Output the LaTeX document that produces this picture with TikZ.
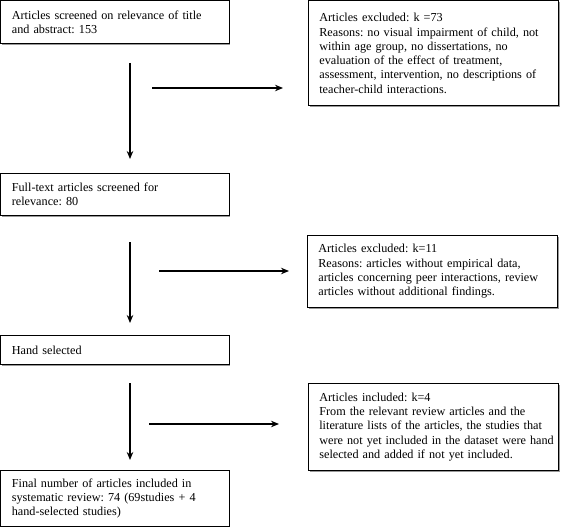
\documentclass[tikz,border=0pt]{standalone}
\usepackage{fontspec}
\setmainfont{Liberation Serif}
\frenchspacing
\usetikzlibrary{shadows,arrows.meta}
\tikzset{>={Stealth[length=8pt,width=6.5pt]}}
\tikzset{
  stagebox/.style={draw, line width=.7pt, fill=white, anchor=north west, align=left,
    inner xsep=11pt, inner ysep=0pt, text width=206pt,
    font=\fontsize{12.2}{14.3}\selectfont,
    drop shadow={shadow xshift=1.3pt, shadow yshift=-1.3pt, fill=black!40, opacity=1}},
  notebox/.style={stagebox, text width=228pt},
  flow/.style={->, line width=1.4pt}
}

\begin{document}
\begin{tikzpicture}[x=1pt,y=-1pt]
    \useasboundingbox (0,0) rectangle (563,527);
    % left column
    \node[stagebox, minimum height=43pt] (screened) at (0.5,0.5)
      {Articles screened on relevance of title\\and abstract: 153};
    \node[stagebox, minimum height=42pt] (fulltext) at (0.5,173)
      {Full-text articles screened for\\relevance: 80};
    \node[stagebox, minimum height=29pt] (hand) at (0.5,335)
      {Hand selected};
    \node[stagebox, minimum height=56pt] (final) at (0.5,470)
      {Final number of articles included in\\systematic review: 74 (69studies + 4\\hand-selected studies)};
    % right column
    \node[notebox, minimum height=105pt] (excl1) at (308,0.5)
      {Articles excluded: k =73\\\mbox{Reasons: no visual impairment of child, not}\\within age group, no dissertations, no\\evaluation of the effect of treatment,\\\mbox{assessment, intervention, no descriptions of}\\teacher-child interactions.};
    \node[notebox, minimum height=72pt] (excl2) at (307,235)
      {Articles excluded: k=11\\Reasons: articles without empirical data,\\\mbox{articles concerning peer interactions, review}\\articles without additional findings.};
    \node[notebox, minimum height=87pt] (incl) at (308,383)
      {Articles included: k=4\\From the relevant review articles and the\\\mbox{literature lists of the articles, the studies that}\\\mbox{were not yet included in the dataset were hand}\\selected and added if not yet included.};
    % arrows
    \coordinate (v1a) at (130,63);  \coordinate (v1b) at (130,159);
    \coordinate (h1a) at (152,88);  \coordinate (h1b) at (283,88);
    \coordinate (v2a) at (130,242); \coordinate (v2b) at (130,323);
    \coordinate (h2a) at (159,271); \coordinate (h2b) at (289,271);
    \coordinate (v3a) at (130,383); \coordinate (v3b) at (130,460);
    \coordinate (h3a) at (149,424); \coordinate (h3b) at (279,424);
    \draw[flow] (v1a) -- (v1b);
    \draw[flow] (h1a) -- (h1b);
    \draw[flow] (v2a) -- (v2b);
    \draw[flow] (h2a) -- (h2b);
    \draw[flow] (v3a) -- (v3b);
    \draw[flow] (h3a) -- (h3b);
  \end{tikzpicture}
\end{document}
